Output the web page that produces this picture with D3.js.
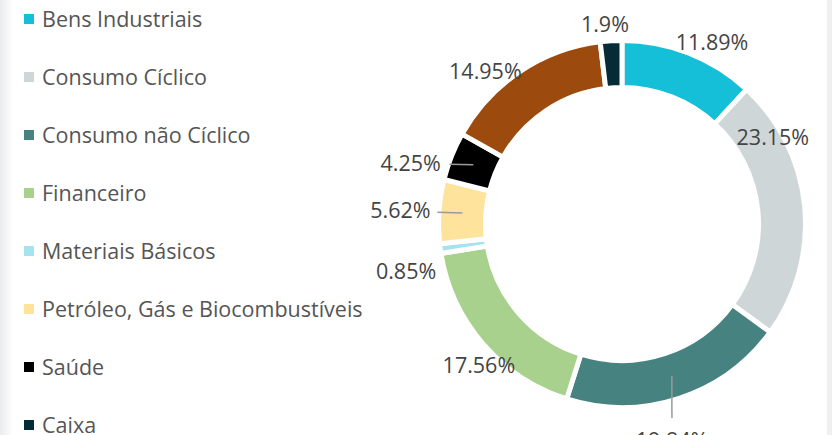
<!DOCTYPE html>
<html>
<head>
<meta charset="utf-8">
<script src="https://cdn.jsdelivr.net/npm/d3@7.9.0/dist/d3.min.js"></script>
<style>
  html, body { margin: 0; padding: 0; background: #fff; }
  #chart { width: 832px; height: 435px; overflow: hidden; }
  text { font-family: "Open Sans", "Noto Sans", sans-serif; }
</style>
</head>
<body>
<div id="chart"></div>
<script>
// sectors, clockwise from 12 o'clock
const sectors = ['Bens Industriais', 'Consumo Cíclico', 'Consumo não Cíclico', 'Financeiro',
  'Materiais Básicos', 'Petróleo, Gás e Biocombustíveis', 'Saúde', 'Utilidade Pública', 'Caixa'];
const weights = [11.89, 23.15, 19.84, 17.56, 0.85, 5.62, 4.25, 14.95, 1.9];
const colors = ['#14bfd7', '#cfd6d8', '#46827f', '#a8d18d', '#a5e3ee', '#fee39c', '#000000', '#9c4a0d', '#052b36'];
// legend only lists these (the brown one is scrolled out of view)
const legendItems = ['Bens Industriais', 'Consumo Cíclico', 'Consumo não Cíclico', 'Financeiro',
  'Materiais Básicos', 'Petróleo, Gás e Biocombustíveis', 'Saúde', 'Caixa'];

// where each % label sits: [angle in degrees from top, radius]
const labelSpots = {
  'Bens Industriais': [26.3, 203],
  'Consumo Cíclico': [60.1, 174],
  'Consumo não Cíclico': [167, 222],
  'Financeiro': [225.4, 201],
  'Materiais Básicos': [257.7, 221],
  'Petróleo, Gás e Biocombustíveis': [273.4, 222],
  'Saúde': [286.1, 220],
  'Utilidade Pública': [318.2, 205],
  'Caixa': [355.1, 200]
};
// leader line lengths (only a few are visible)
const leaders = { 'Consumo não Cíclico': 42, 'Petróleo, Gás e Biocombustíveis': 25, 'Saúde': 24 };

const width = 832, height = 435;
const cx = 622, cy = 224;
const gap = 5;
const outerR = 181 + gap / 2, innerR = 139 - gap / 2;

const data = sectors.map((s, i) => ({ sector: s, value: weights[i], color: colors[i] }));

const svg = d3.select('#chart').append('svg')
  .attr('width', width).attr('height', height)
  .attr('viewBox', `0 0 ${width} ${height}`);

// faint panel edges
const grad = svg.append('defs').append('linearGradient').attr('id', 'edge');
grad.append('stop').attr('offset', '0%').attr('stop-color', '#e9ecee');
grad.append('stop').attr('offset', '100%').attr('stop-color', '#ffffff');
svg.append('rect').attr('x', 0).attr('y', 0).attr('width', 13).attr('height', height).attr('fill', 'url(#edge)');
svg.append('rect').attr('x', 827).attr('y', 0).attr('width', 5).attr('height', height).attr('fill', '#eef0f0');

const pie = d3.pie().sort(null).value(d => d.value);
const arcs = pie(data);
const arc = d3.arc().innerRadius(innerR).outerRadius(outerR);
const midArc = d3.arc().innerRadius(160).outerRadius(160);

const g = svg.append('g').attr('transform', `translate(${cx},${cy})`);

g.selectAll('path.slice')
  .data(arcs)
  .join('path')
  .attr('class', 'slice')
  .attr('d', arc)
  .attr('fill', d => d.data.color)
  .attr('stroke', '#fff')
  .attr('stroke-width', gap)
  .attr('stroke-linejoin', 'miter');

const toRad = a => a * Math.PI / 180;

// leader lines
g.selectAll('line.leader')
  .data(arcs.filter(d => leaders[d.data.sector]))
  .join('line')
  .attr('class', 'leader')
  .each(function (d) {
    const [x1, y1] = midArc.centroid(d);
    const [a, r] = labelSpots[d.data.sector];
    const [lx, ly] = d3.pointRadial(toRad(a), r);
    const len = leaders[d.data.sector];
    const dist = Math.hypot(lx - x1, ly - y1);
    d3.select(this)
      .attr('x1', x1).attr('y1', y1)
      .attr('x2', x1 + (lx - x1) * len / dist)
      .attr('y2', y1 + (ly - y1) * len / dist);
  })
  .attr('stroke', '#9a9a9a')
  .attr('stroke-width', 1.5);

// percentage labels
g.selectAll('text.pct')
  .data(arcs)
  .join('text')
  .attr('class', 'pct')
  .attr('transform', d => {
    const [a, r] = labelSpots[d.data.sector];
    return `translate(${d3.pointRadial(toRad(a), r)})`;
  })
  .attr('text-anchor', 'middle')
  .attr('dy', '0.35em')
  .attr('fill', '#444')
  .attr('font-size', 21.5)
  .text(d => `${d.data.value}%`);

// legend
const legend = svg.append('g').attr('transform', 'translate(24,19)');
const rows = legend.selectAll('g')
  .data(legendItems)
  .join('g')
  .attr('transform', (d, i) => `translate(0,${i * 58})`);

rows.append('rect')
  .attr('x', 0).attr('y', -5)
  .attr('width', 10).attr('height', 10)
  .attr('fill', d => colors[sectors.indexOf(d)]);

rows.append('text')
  .attr('x', 18)
  .attr('dy', '0.35em')
  .attr('fill', '#555')
  .attr('font-size', 21.5)
  .text(d => d);
</script>
</body>
</html>
